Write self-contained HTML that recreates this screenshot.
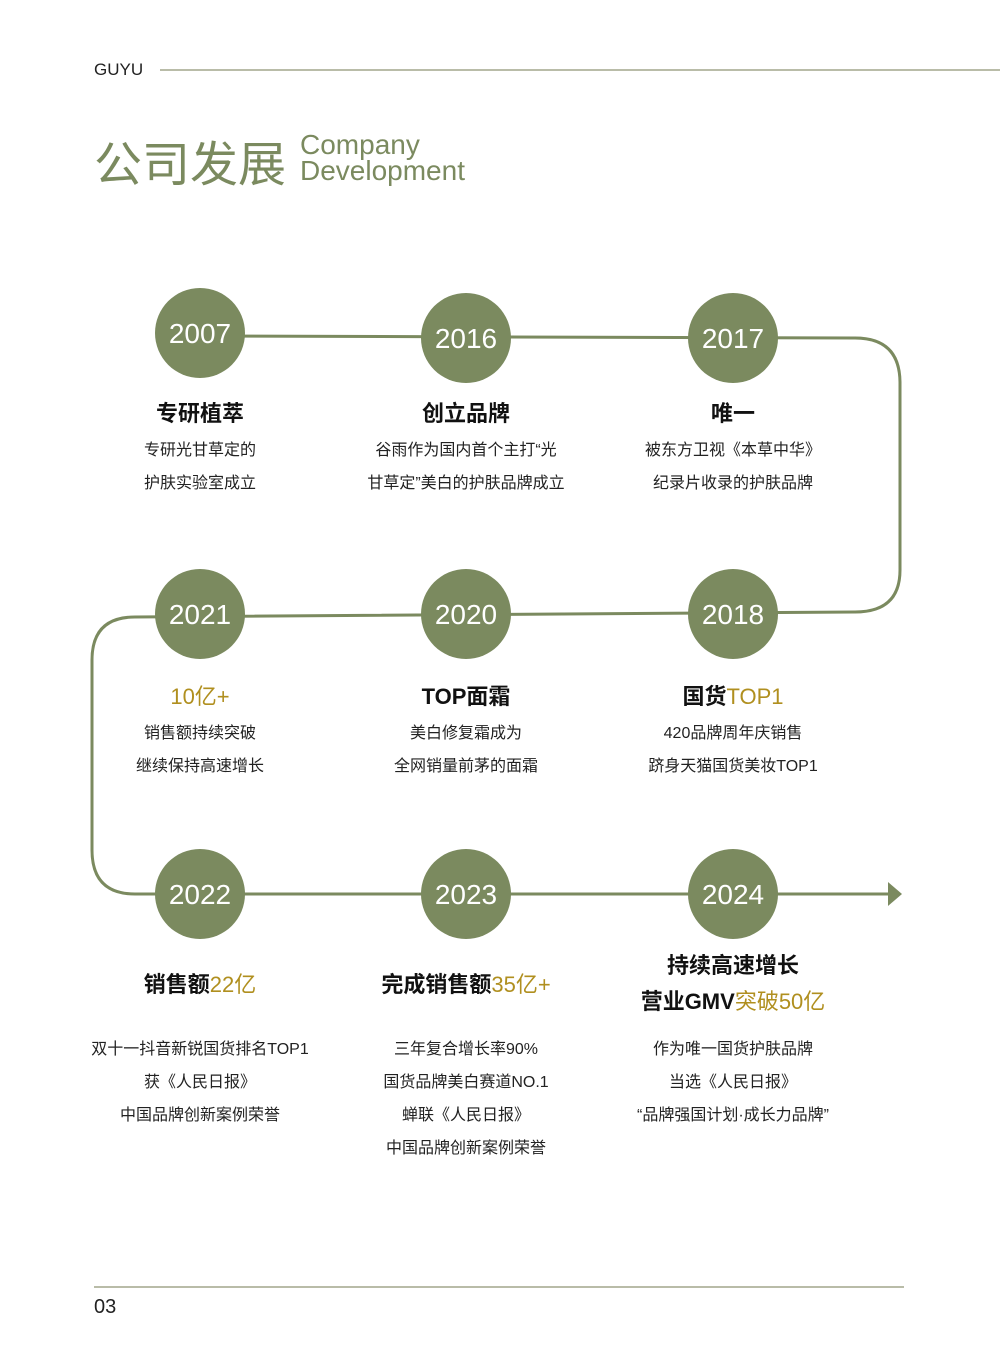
<!DOCTYPE html>
<html><head><meta charset="utf-8"><style>
body{margin:0;width:1000px;height:1357px;background:#fff;position:relative;overflow:hidden;font-family:"Liberation Sans","Noto Sans CJK SC",sans-serif;color:#222}
.a{position:absolute;text-align:center;white-space:nowrap}
.t{font-size:22px;font-weight:bold;color:#111;transform:translateX(-50%)}
.b{font-size:16px;line-height:33px;color:#222;transform:translateX(-50%)}
.g{color:#b08f1f;font-weight:normal}
.y{fill:#fff;font-size:28px;font-family:"Liberation Sans",sans-serif}
</style></head><body>
<div class="a" style="left:94px;top:60px;font-size:17px;color:#222">GUYU</div>
<div style="position:absolute;left:160px;top:69px;width:840px;height:2px;background:#b9bca8"></div>
<div class="a" style="left:94px;top:130px;font-size:48px;color:#7b8a5f;font-family:'Noto Sans CJK SC',sans-serif;line-height:60px">公司发展</div>
<div class="a" style="left:300px;top:132px;font-size:28px;color:#7b8a5f;line-height:26px;text-align:left">Company<br>Development</div>
<svg style="position:absolute;left:0;top:0" width="1000" height="1357">
<g fill="none" stroke="#7b8a5f" stroke-width="3">
<path d="M200 336 L855 338 Q900 338 900 383 L900 570 Q900 612 855 612 L135 617 Q92 617 92 660 L92 850 Q92 894 135 894 L890 894"/>
</g>
<polygon points="888,882 902,894 888,906" fill="#7b8a5f"/>
<g fill="#7b8a5f">
<circle cx="200" cy="333" r="45"/><circle cx="466" cy="338" r="45"/><circle cx="733" cy="338" r="45"/>
<circle cx="200" cy="614" r="45"/><circle cx="466" cy="614" r="45"/><circle cx="733" cy="614" r="45"/>
<circle cx="200" cy="894" r="45"/><circle cx="466" cy="894" r="45"/><circle cx="733" cy="894" r="45"/>
</g>
<g class="y" text-anchor="middle">
<text x="200" y="343">2007</text><text x="466" y="348">2016</text><text x="733" y="348">2017</text>
<text x="200" y="624">2021</text><text x="466" y="624">2020</text><text x="733" y="624">2018</text>
<text x="200" y="904">2022</text><text x="466" y="904">2023</text><text x="733" y="904">2024</text>
</g>
</svg>
<div class="a t" style="left:200px;top:396px">专研植萃</div>
<div class="a b" style="left:200px;top:434px">专研光甘草定的<br>护肤实验室成立</div>
<div class="a t" style="left:466px;top:396px">创立品牌</div>
<div class="a b" style="left:466px;top:434px">谷雨作为国内首个主打“光<br>甘草定”美白的护肤品牌成立</div>
<div class="a t" style="left:733px;top:396px">唯一</div>
<div class="a b" style="left:733px;top:434px">被东方卫视《本草中华》<br>纪录片收录的护肤品牌</div>

<div class="a t" style="left:200px;top:679px"><span class="g">10亿+</span></div>
<div class="a b" style="left:200px;top:717px">销售额持续突破<br>继续保持高速增长</div>
<div class="a t" style="left:466px;top:679px">TOP面霜</div>
<div class="a b" style="left:466px;top:717px">美白修复霜成为<br>全网销量前茅的面霜</div>
<div class="a t" style="left:733px;top:679px">国货<span class="g">TOP1</span></div>
<div class="a b" style="left:733px;top:717px">420品牌周年庆销售<br>跻身天猫国货美妆TOP1</div>

<div class="a t" style="left:200px;top:967px">销售额<span class="g">22亿</span></div>
<div class="a b" style="left:200px;top:1033px">双十一抖音新锐国货排名TOP1<br>获《人民日报》<br>中国品牌创新案例荣誉</div>
<div class="a t" style="left:466px;top:967px">完成销售额<span class="g">35亿+</span></div>
<div class="a b" style="left:466px;top:1033px">三年复合增长率90%<br>国货品牌美白赛道NO.1<br>蝉联《人民日报》<br>中国品牌创新案例荣誉</div>
<div class="a t" style="left:733px;top:948px;line-height:36px">持续高速增长<br>营业GMV<span class="g">突破50亿</span></div>
<div class="a b" style="left:733px;top:1033px">作为唯一国货护肤品牌<br>当选《人民日报》<br>“品牌强国计划·成长力品牌”</div>

<div style="position:absolute;left:94px;top:1286px;width:810px;height:2px;background:#b9bca8"></div>
<div class="a" style="left:94px;top:1296px;font-size:20px;color:#222">03</div>
</body></html>
